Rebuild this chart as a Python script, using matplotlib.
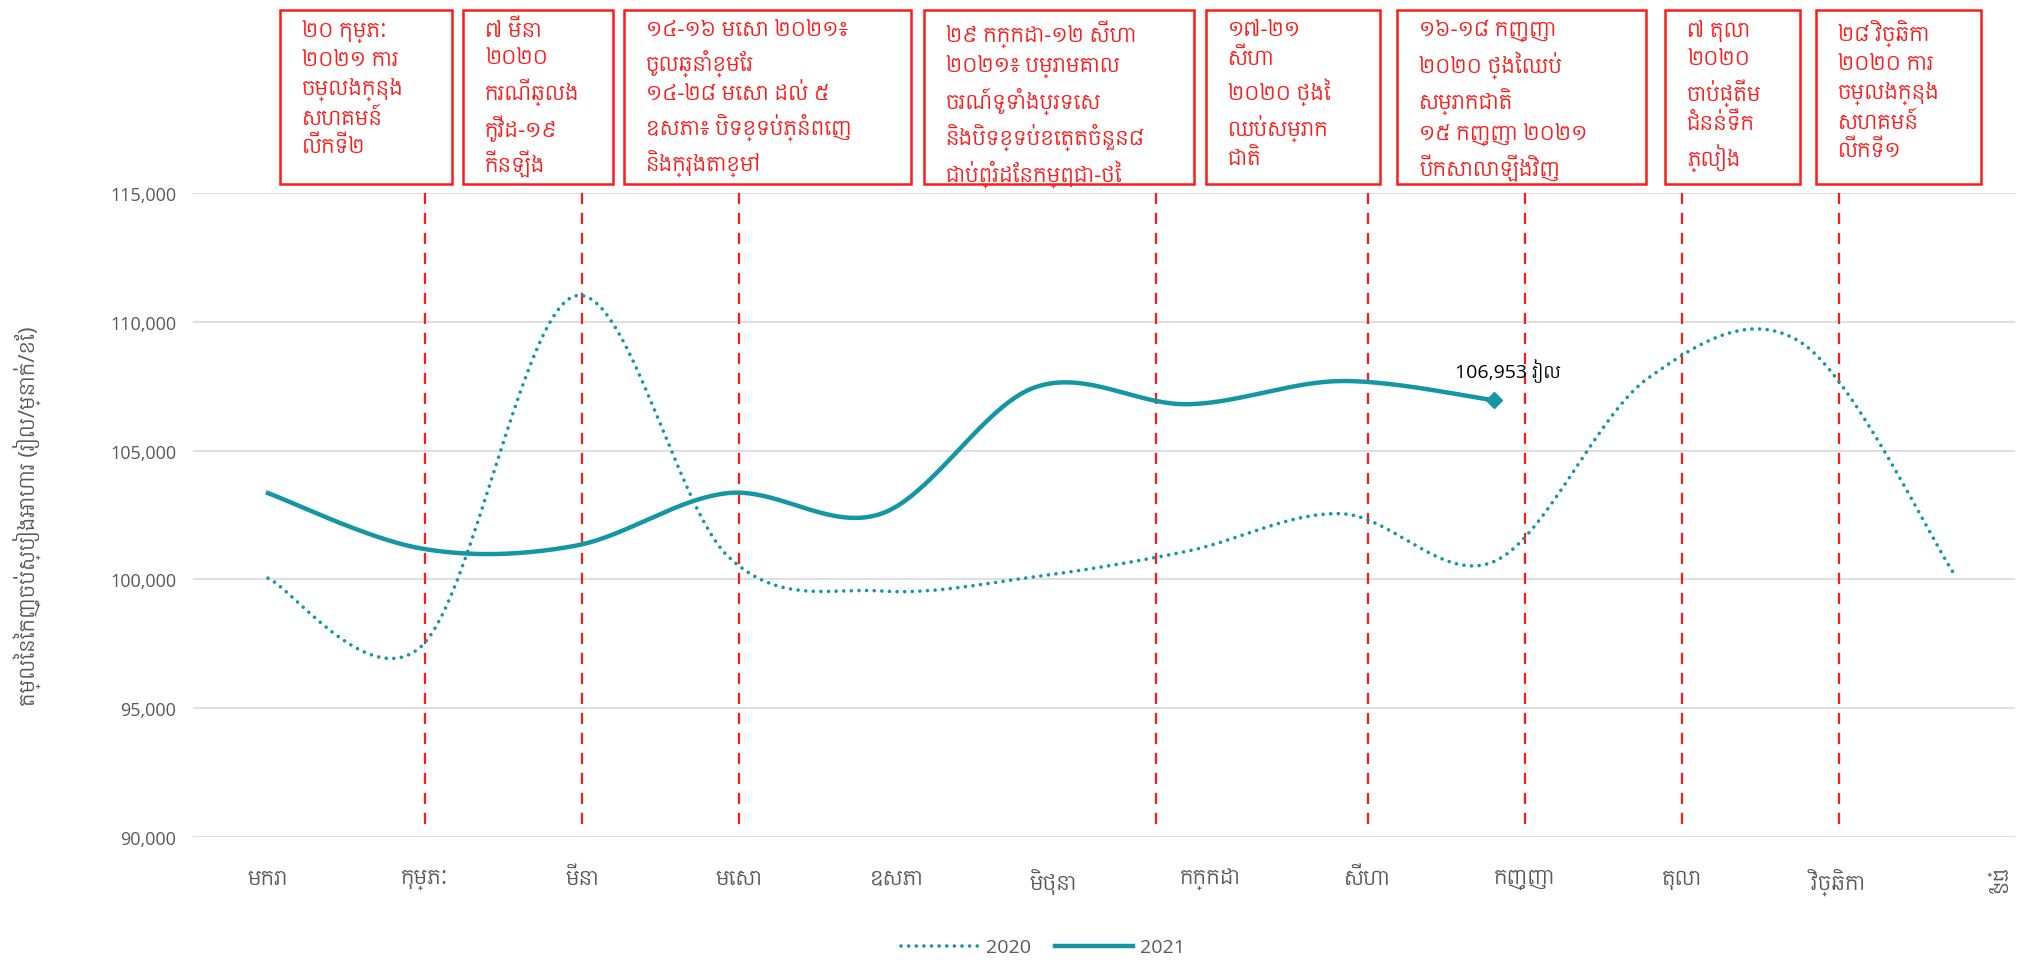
import numpy as np
import matplotlib
matplotlib.use('Agg')
import matplotlib.pyplot as plt
import matplotlib.font_manager as fm
from matplotlib.ft2font import FT2Font
from matplotlib.patches import Rectangle

# find installed fonts with Khmer glyphs, pick the lightest proportional one
khmer_fonts = []
for f in fm.fontManager.ttflist:
    try:
        ft = FT2Font(f.fname)
        if 0x1780 not in ft.get_charmap():
            continue
        ft.set_size(40, 72)
        ft.set_text('កខគ')
        ft.draw_glyphs_to_bitmap()
        ink = np.asarray(ft.get_image()).mean()
        khmer_fonts.append(('Mono' in f.name, ink, f.name))
    except Exception:
        pass
khmer_fonts.sort()
khmer_name = [k[2] for k in khmer_fonts[:1]]
plt.rcParams['font.family'] = ['Open Sans'] + khmer_name + ['DejaVu Sans']

# data
months = ['មករា', 'កុម្ភៈ', 'មីនា', 'មេសា', 'ឧសភា', 'មិថុនា',
          'កក្កដា', 'សីហា', 'កញ្ញា', 'តុលា', 'វិច្ឆិកា', 'ធ្នូ']
values_2020 = [100050, 97400, 111000, 100900, 99550, 100100,
               101100, 102550, 100700, 107800, 109200, 100200]
values_2021 = [103350, 101200, 101300, 103350, 102550, 107450,
               106800, 107700, 106953]
last_label = '106,953 រៀល'
y_ticks = [90000, 95000, 100000, 105000, 110000, 115000]
y_title = 'តម្លៃនៃកញ្ចប់ស្បៀងអាហារ (រៀល/ម្នាក់/ខែ)'

event_pos = [1, 2, 3, 5.65, 7, 8, 9, 10]
event_texts = [
    '២០ កុម្ភៈ\n២០២១ ការ\nចម្លងក្នុង\nសហគមន៍\nលើកទី២',
    '៧ មីនា\n២០២០\nករណីឆ្លង\nកូវីដ-១៩\nកើនឡើង',
    '១៤-១៦ មេសា ២០២១៖\nចូលឆ្នាំខ្មែរ\n១៤-២៨ មេសា ដល់ ៥\nឧសភា៖ បិទខ្ទប់ភ្នំពេញ\nនិងក្រុងតាខ្មៅ',
    '២៩ កក្កដា-១២ សីហា\n២០២១៖ បម្រាមគោល\nចរណ៍ទូទាំងប្រទេស\nនិងបិទខ្ទប់ខេត្តចំនួន៨\nជាប់ព្រំដែនកម្ពុជា-ថៃ',
    '១៧-២១\nសីហា\n២០២០ ថ្ងៃ\nឈប់សម្រាក\nជាតិ',
    '១៦-១៨ កញ្ញា\n២០២០ ថ្ងៃឈប់\nសម្រាកជាតិ\n១៥ កញ្ញា ២០២១\nបើកសាលាឡើងវិញ',
    '៧ តុលា\n២០២០\nចាប់ផ្តើម\nជំនន់ទឹក\nភ្លៀង',
    '២៨ វិច្ឆិកា\n២០២០ ការ\nចម្លងក្នុង\nសហគមន៍\nលើកទី១',
]
# box left/right edges in pixels
box_x = [(280, 452), (463, 613), (624, 911), (924, 1194),
         (1206, 1380), (1397, 1646), (1665, 1800), (1816, 1981)]

teal = '#1496a3'
red = '#ff1a1a'
gray = '#595959'


def smooth(x, y, n=40):
    # catmull-rom like the excel smoothed line
    x = np.asarray(x, float)
    y = np.asarray(y, float)
    px = np.r_[x[0], x, x[-1]]
    py = np.r_[y[0], y, y[-1]]
    t = np.linspace(0, 1, n)
    xs, ys = [], []
    for j in range(len(x) - 1):
        for p, out in ((px, xs), (py, ys)):
            p0, p1, p2, p3 = p[j], p[j + 1], p[j + 2], p[j + 3]
            out.append(0.5 * (2 * p1 + (p2 - p0) * t
                              + (2 * p0 - 5 * p1 + 4 * p2 - p3) * t ** 2
                              + (3 * p1 - p0 - 3 * p2 + p3) * t ** 3))
    return np.concatenate(xs), np.concatenate(ys)


W, H = 2020, 970
fig = plt.figure(figsize=(W / 100, H / 100), dpi=100)
ax = fig.add_axes([193 / W, 132 / H, (2015 - 193) / W, 644 / H])

ax.set_ylim(90000, 115000)
ax.set_xlim(-0.477, 11.12)
ax.set_yticks(y_ticks)
ax.set_yticklabels([f'{v:,}' for v in y_ticks], color=gray, fontsize=13)
ax.set_xticks(range(len(months)))
ax.set_xticklabels(months, color=gray, fontsize=16)
ax.get_xticklabels()[-1].set_rotation(-90)
ax.tick_params(length=0, pad=12)
ax.tick_params(axis='x', pad=22)
ax.grid(axis='y', color='#d9d9d9', linewidth=1.2)
ax.set_axisbelow(True)
for s in ax.spines.values():
    s.set_visible(False)
ax.set_ylabel(y_title, color=gray, fontsize=16)
ax.yaxis.set_label_coords(-0.083, 0.5)

# event lines
for xp in event_pos:
    ax.axvline(xp, ymin=0.02, ymax=1.014, color=red, linestyle=(0, (5, 4)),
               linewidth=1.6, clip_on=False)

# lines on a second x scale
ax2 = ax.twiny()
ax2.set_xlim(-0.489, 11.396)
ax2.set_xticks([])
for s in ax2.spines.values():
    s.set_visible(False)

x20 = np.arange(len(values_2020))
x21 = np.arange(len(values_2021))
sx, sy = smooth(x20, values_2020)
l20, = ax2.plot(sx, sy, color=teal, linewidth=2.6, linestyle=(0, (0.01, 2.1)),
                dash_capstyle='round', label='2020')
sx, sy = smooth(x21, values_2021)
l21, = ax2.plot(sx, sy, color=teal, linewidth=3.2, label='2021')
ax2.plot(x21[-1], values_2021[-1], marker='D', color=teal, markersize=8)
ax2.annotate(last_label, (x21[-1], values_2021[-1]), xytext=(-39, 30),
             textcoords='offset pixels', ha='left', va='center',
             fontsize=14, color='black')

# event boxes across the top
for (x0, x1), txt in zip(box_x, event_texts):
    fig.patches.append(Rectangle((x0 / W, 1 - 185 / H), (x1 - x0) / W, 174 / H,
                                 transform=fig.transFigure, fill=False,
                                 edgecolor=red, linewidth=1.8))
    fig.text((x0 + 22) / W, 1 - 20 / H, txt, ha='left', va='top',
             color=red, fontsize=16, linespacing=1.42)

fig.legend(handles=[l20, l21], loc='lower center', ncol=2, frameon=False,
           bbox_to_anchor=(1043 / W, -0.005), fontsize=14, handlelength=4,
           labelcolor=gray, columnspacing=1.2, handletextpad=0.4)

fig.savefig('out.png', dpi=100)
